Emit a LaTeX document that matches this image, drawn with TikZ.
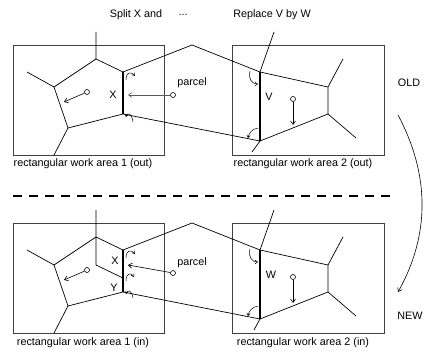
\documentclass[tikz,border=0pt]{standalone}
\usepackage{fontspec}
\setmainfont{Liberation Sans}
\usetikzlibrary{arrows.meta}

\tikzset{every picture/.style={line width=0.7pt},
  area/.style={draw=black!75, line width=0.8pt},
  cut/.style={draw=black, line width=0.7pt},
  fixedge/.style={draw=black, line width=2pt},
  pt/.style={circle, draw=black, fill=white, inner sep=0pt, minimum size=5pt, line width=0.6pt},
  mv/.style={-{Straight Barb[length=3.5pt,width=5pt]}, line width=0.6pt},
  turn/.style={-{Straight Barb[length=2.5pt,width=3.5pt]}, line width=0.5pt},
  txt/.style={font=\fontsize{10.8}{12}\selectfont, inner sep=0pt}}

\begin{document}
\begin{tikzpicture}[x=1pt,y=-1pt]
	\useasboundingbox (0,0) rectangle (423,353);

	% work areas
	\draw[area] (13,45) rectangle (164,155);
	\draw[area] (232,45) rectangle (384,155);
	\draw[area] (13,223) rectangle (164,333);
	\draw[area] (232,223) rectangle (384,333);

	%OLD: cell X in area 1
	\coordinate (xt) at (96,59);
	\coordinate (xl) at (54,87);
	\coordinate (xb) at (68,128);
	\coordinate (xrt) at (123,72);
	\coordinate (xrb) at (123,114);
	\draw[cut] (xt) -- (xl) -- (xb) -- (xrb);
	\draw[cut] (xrt) -- (xt) -- (96,32);
	\draw[cut] (xl) -- (27,72);
	\draw[cut] (xb) -- (54,155);
	\draw[fixedge] (xrt) -- (xrb);
	%OLD: cell V in area 2
	\coordinate (vt) at (260,72);
	\coordinate (vb) at (260,141);
	\coordinate (vr1) at (328,87);
	\coordinate (vr2) at (328,114);
	\draw[cut] (vt) -- (vr1) -- (vr2) -- (vb);
	\draw[cut] (vt) -- (274,32);
	\draw[cut] (vb) -- (252,152);
	\draw[cut] (vr1) -- (343,59);
	\draw[cut] (vr2) -- (356,138);
	\draw[fixedge] (vt) -- (vb);
	%OLD: parcel between
	\draw[cut] (xrt) -- (192,45) -- (vt);
	\draw[cut] (xrb) -- (vb);

	%NEW: cells X and Y in area 1
	\coordinate (nt) at (96,237);
	\coordinate (nl) at (54,265);
	\coordinate (nb) at (68,306);
	\coordinate (nm) at (96,265);
	\coordinate (nrt) at (123,250);
	\coordinate (nrm) at (123,278);
	\coordinate (nrb) at (123,292);
	\draw[cut] (nt) -- (nl) -- (nb) -- (nrb);
	\draw[cut] (nrt) -- (nt) -- (96,210);
	\draw[cut] (nt) -- (nm) -- (nrm);
	\draw[cut] (nl) -- (27,250);
	\draw[cut] (nb) -- (54,333);
	\draw[fixedge] (nrt) -- (nrb);
	%NEW: cell W in area 2
	\coordinate (wt) at (260,250);
	\coordinate (wb) at (260,319);
	\coordinate (wr1) at (328,265);
	\coordinate (wr2) at (328,292);
	\draw[cut] (wt) -- (wr1) -- (wr2) -- (wb);
	\draw[cut] (wt) -- (274,210);
	\draw[cut] (wb) -- (254,330);
	\draw[cut] (wr1) -- (343,237);
	\draw[cut] (wr2) -- (356,316);
	\draw[fixedge] (wt) -- (wb);
	%NEW: parcel between
	\draw[cut] (nrt) -- (192,223) -- (wt);
	\draw[cut] (nrb) -- (wb);

	% moving points
	\node[pt] (px1) at (87,92) {};
	\node[pt] (pp1) at (173,95) {};
	\node[pt] (pv1) at (293,99) {};
	\node[pt] (px2) at (87,270) {};
	\node[pt] (pp2) at (173,273) {};
	\node[pt] (pw2) at (293,277) {};
	\draw[mv] (px1) -- (64,102);
	\draw[mv, draw=black!65] (pp1) -- (128,95);
	\draw[mv] (pv1) -- (293,125);
	\draw[mv] (px2) -- (64,280);
	\draw[mv] (pp2) -- (128,265);
	\draw[mv] (pw2) -- (293,303);

	% turning arrows at the corners
	\draw[turn] (126,80) .. controls (126,72) and (131,71) .. (135,76);
	\draw[turn] (133,122) .. controls (132,113) and (127,112) .. (126,117);
	\draw[turn] (250,71) .. controls (248,79) and (252,84) .. (258,84);
	\draw[turn] (258,128) .. controls (252,129) and (249,133) .. (248,138);
	\draw[turn] (126,258) .. controls (126,250) and (131,249) .. (135,254);
	\draw[turn] (126,281) .. controls (126,273) and (131,272) .. (134,277);
	\draw[turn] (133,298) .. controls (132,290) and (127,289) .. (126,294);
	\draw[turn] (250,249) .. controls (248,257) and (252,262) .. (258,262);
	\draw[turn] (258,306) .. controls (252,307) and (249,311) .. (248,316);

	% old -> new
	\draw[dash pattern=on 9pt off 7pt, line width=1.2pt] (13,196) -- (397,196);
	\coordinate (from) at (398,115);
	\coordinate (to) at (398,292);
	\draw[mv] (from) .. controls (430,175) and (430,235) .. (to);

	% Text Node
	\node[txt] (split) at (136,15) {Split X and};
	\node[txt] (dots) at (183,15) {...};
	\node[txt] (repl) at (272,15) {Replace V by W};
	\node[txt] (old) at (409,83) {OLD};
	\node[txt] (new) at (410,316) {NEW};
	\node[txt] (lx1) at (113,95) {X};
	\node[txt] (lv) at (269,97) {V};
	\node[txt] (lx2) at (115,261) {X};
	\node[txt] (ly) at (114,288) {Y};
	\node[txt] (lw) at (271,275) {W};
	\node[txt] (parcel1) at (192,83) {parcel};
	\node[txt] (parcel2) at (192,263) {parcel};
	\node[txt] (out1) at (83,164) {rectangular work area 1 (out)};
	\node[txt] (out2) at (303,164) {rectangular work area 2 (out)};
	\node[txt] (in1) at (83,343) {rectangular work area 1 (in)};
	\node[txt] (in2) at (303,343) {rectangular work area 2 (in)};
\end{tikzpicture}
\end{document}
